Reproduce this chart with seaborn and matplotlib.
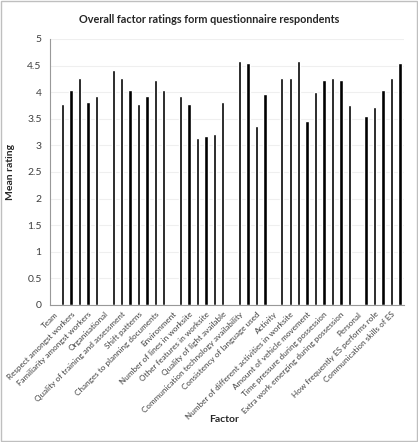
import numpy as np
import pandas as pd
import matplotlib
matplotlib.use("Agg")
import matplotlib.pyplot as plt
from matplotlib.patches import Rectangle
import seaborn as sns

# group headers and hidden (every-other) category slots carry no bar
visible_labels = [
    "Team", "Respect amongst workers", "Familiarity amongst workers",
    "Organisational", "Quality of training and assessment", "Shift patterns",
    "Changes to planning documents", "Environment", "Number of lines in worksite",
    "Other features in worksite", "Quality of light available",
    "Communication technology availability", "Consistency of language used",
    "Activity", "Number of different activities in worksite",
    "Amount of vehicle movement", "Time pressure during possession",
    "Extra work emerging during possession", "Personal",
    "How frequently ES performs role", "Communication skills of ES",
]

mean_rating = [
    np.nan, 3.78, 4.04, 4.27, 3.82, 3.92,
    np.nan, 4.41, 4.27, 4.04, 3.78, 3.92, 4.23, 4.04,
    np.nan, 3.92, 3.78, 3.14, 3.18, 3.22, 3.82, np.nan, 4.59, 4.55, 3.37, 3.96,
    np.nan, 4.27, 4.27, 4.59, 3.46, 4.00, 4.23, 4.27, 4.23, 3.75,
    np.nan, 3.55, 3.73, 4.04, 4.27, 4.55,
]

slot = list(range(len(mean_rating)))
df = pd.DataFrame({"slot": slot, "rating": mean_rating})

sns.set_style("white")
plt.rcParams["font.family"] = ["Lato", "DejaVu Sans"]

fig = plt.figure(figsize=(4.18, 4.42), dpi=100)
ax = fig.add_axes([0.1196, 0.31, 0.847, 0.6018])

sns.barplot(data=df, x="slot", y="rating", order=slot, color="black",
            width=0.4, ax=ax, saturation=1)

ax.set_ylim(0, 5)
ax.set_xlim(-0.5, len(slot) - 0.5)
ax.set_yticks(np.arange(0, 5.01, 0.5))
ax.set_yticklabels([f"{v:g}" for v in np.arange(0, 5.01, 0.5)])
ax.yaxis.grid(True, color="#efefef", linewidth=0.8)
ax.set_axisbelow(True)

ax.set_xticks(range(0, len(slot), 2))
ax.set_xticklabels(visible_labels, rotation=45, ha="right",
                   rotation_mode="anchor", fontsize=5.9, color="#404040")
ax.set_xticks(np.arange(-0.5, len(slot), 1), minor=True)
ax.tick_params(axis="x", which="major", length=0, pad=4)
ax.tick_params(axis="x", which="minor", length=3, color="#999999")
ax.tick_params(axis="y", length=3, color="#999999", labelsize=7.5,
               labelcolor="#404040", pad=3)

for s in ["top", "right"]:
    ax.spines[s].set_visible(False)
for s in ["left", "bottom"]:
    ax.spines[s].set_color("#999999")
    ax.spines[s].set_linewidth(0.8)

ax.set_xlabel("")
ax.set_ylabel("Mean rating", fontsize=7.5, fontweight="bold", labelpad=9)
fig.text(0.535, 0.052, "Factor", ha="center", va="center",
         fontsize=7.5, fontweight="bold")
fig.text(0.5, 0.955, "Overall factor ratings form questionnaire respondents",
         ha="center", va="center", fontsize=7.8, fontweight="bold")

fig.patches.append(Rectangle((0.002, 0.002), 0.996, 0.996, transform=fig.transFigure,
                             fill=False, edgecolor="#bfbfbf", linewidth=1))

fig.savefig("out.png", dpi=100)
